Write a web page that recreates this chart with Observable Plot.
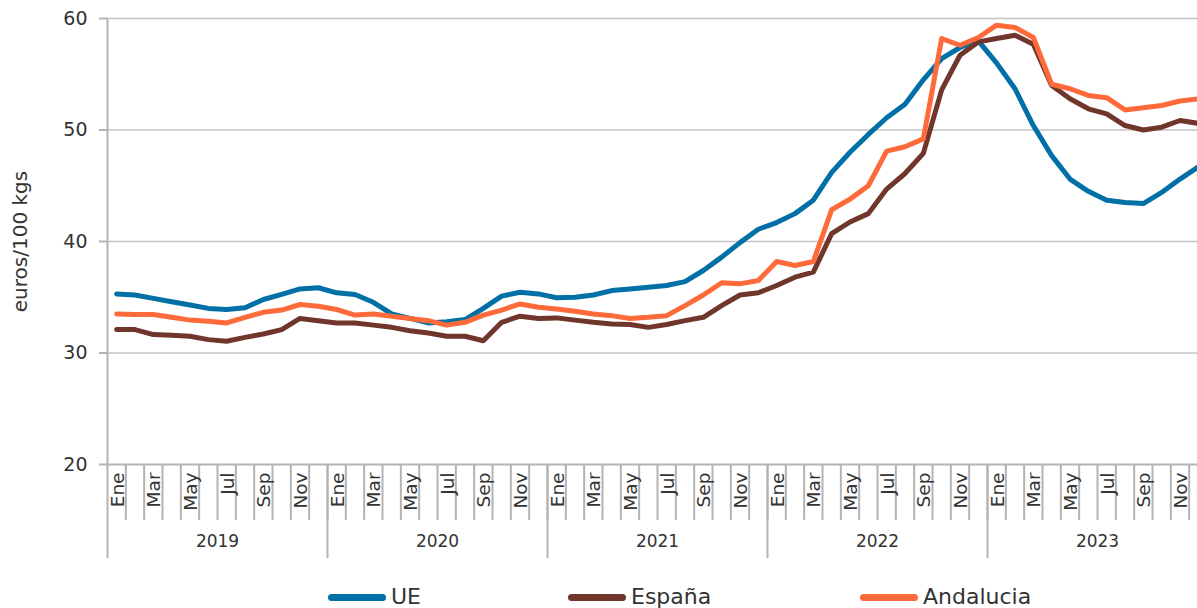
<!DOCTYPE html>
<html><head><meta charset="utf-8">
<script src="https://cdn.jsdelivr.net/npm/d3@7"></script>
<script src="https://cdn.jsdelivr.net/npm/@observablehq/plot@0.6"></script>
<style>
body{margin:0;background:#fff;font-family:"DejaVu Sans", sans-serif;}
#wrap{position:relative;width:1197px;height:608px;overflow:hidden;background:#fff}
.leg{position:absolute;top:584px;height:26px;line-height:1;display:flex;align-items:center;font-size:22px;color:#333;white-space:nowrap}
.sw{width:58px;height:7px;border-radius:4px;margin-right:5px}
</style></head><body><div id="wrap"></div>
<script>
const monthNames = ["Ene","Feb","Mar","Abr","May","Jun","Jul","Ago","Sep","Oct","Nov","Dic"];
const years = ["2019","2020","2021","2022","2023"];
const yTicks = [20,30,40,50,60];
const seriesNames = ["UE","España","Andalucia"];
const seriesColors = ["#0070a6","#70362b","#ff6a3b"];

const ue = [
35.3,35.2,34.9,34.6,34.3,34.0,33.9,34.05,34.8,35.25,35.75,35.85,
35.4,35.25,34.55,33.5,33.1,32.7,32.8,33.0,34.0,35.1,35.45,35.3,
34.95,35.0,35.2,35.6,35.75,35.9,36.05,36.4,37.4,38.6,39.9,41.1,
41.7,42.5,43.7,46.2,48.0,49.6,51.1,52.3,54.5,56.4,57.4,58.0,
56.0,53.7,50.4,47.7,45.6,44.5,43.7,43.5,43.4,44.4,45.6,46.7];
const espana = [
32.1,32.1,31.65,31.6,31.5,31.2,31.05,31.4,31.7,32.1,33.1,32.9,
32.7,32.7,32.5,32.3,32.0,31.8,31.5,31.5,31.1,32.75,33.3,33.1,
33.15,32.95,32.75,32.6,32.55,32.3,32.55,32.9,33.2,34.25,35.2,35.4,
36.05,36.8,37.25,40.7,41.75,42.5,44.7,46.1,47.9,53.6,56.7,57.9,
58.2,58.5,57.7,54.0,52.8,51.9,51.45,50.4,50.0,50.25,50.85,50.6];
const andalucia = [
33.5,33.45,33.45,33.2,32.95,32.85,32.7,33.2,33.65,33.85,34.35,34.2,
33.9,33.4,33.5,33.3,33.1,32.9,32.5,32.75,33.4,33.85,34.4,34.1,
33.95,33.75,33.5,33.35,33.1,33.2,33.35,34.25,35.2,36.3,36.2,36.5,
38.2,37.85,38.2,42.85,43.8,45.0,48.1,48.5,49.2,58.2,57.6,58.3,
59.4,59.2,58.3,54.1,53.7,53.1,52.9,51.8,52.0,52.2,52.6,52.8];

const seriesValues = [ue, espana, andalucia];
const nMonths = ue.length;
const rows = seriesValues.flatMap((vals, s) => vals.map((v, i) => ({series: seriesNames[s], i, x: i + 0.5, v})));
const monthBoundaries = d3.range(1, nMonths);
const yearBoundaries = years.map((y, k) => k * 12);
const monthLabels = d3.range(0, nMonths, 2).map(i => ({x: i + 0.5, text: monthNames[i % 12]}));
const yearLabels = years.map((y, k) => ({x: k * 12 + 6, text: y}));

const axisGray = "#b3b3b3";
const font = "'DejaVu Sans', sans-serif";
const chart = Plot.plot({
  width: 1197, height: 570,
  marginLeft: 107, marginTop: 18, marginBottom: 106, marginRight: 0,
  style: {fontFamily: font, color: "#333", background: "white", overflow: "hidden"},
  x: {domain: [0, 60], range: [107, 1207]},
  y: {domain: [20, 60]},
  color: {domain: seriesNames, range: seriesColors},
  marks: [
    Plot.ruleY(yTicks.filter(d => d > 20), {stroke: "#c4c4c4", strokeWidth: 1.5}),
    Plot.axisY(yTicks, {tickSize: 8, tickPadding: 12, stroke: axisGray, strokeWidth: 2, fill: "#333", fontSize: 19, label: null}),
    Plot.ruleX([0], {stroke: axisGray, strokeWidth: 2}),
    Plot.ruleY([20], {stroke: axisGray, strokeWidth: 2}),
    Plot.axisX(monthBoundaries, {tickSize: 56, tickFormat: () => "", stroke: axisGray, strokeWidth: 2, label: null}),
    Plot.axisX(yearBoundaries, {tickSize: 94, tickFormat: () => "", stroke: axisGray, strokeWidth: 2, label: null}),
    Plot.text(monthLabels, {x: "x", text: "text", frameAnchor: "bottom", dy: 8, dx: 1, rotate: -90, textAnchor: "end", lineAnchor: "middle", fontSize: 18.5, fill: "#333"}),
    Plot.text(yearLabels, {x: "x", text: "text", frameAnchor: "bottom", dy: 82, fontSize: 17, fill: "#333"}),
    Plot.text(["euros/100 kgs"], {frameAnchor: "left", dx: -87, rotate: -90, textAnchor: "middle", lineAnchor: "middle", fontSize: 20, fill: "#333"}),
    Plot.lineY(rows, {x: "x", y: "v", z: "series", stroke: "series", strokeWidth: 5, strokeLinejoin: "round", strokeLinecap: "round"})
  ]
});
const wrap = document.getElementById("wrap");
wrap.appendChild(chart);
const legendLeft = [328, 568, 860];
seriesNames.forEach((name, k) => {
  const item = document.createElement("div");
  item.className = "leg";
  item.style.left = legendLeft[k] + "px";
  const sw = document.createElement("div");
  sw.className = "sw";
  sw.style.background = seriesColors[k];
  const t = document.createElement("span");
  t.textContent = name;
  item.appendChild(sw); item.appendChild(t);
  wrap.appendChild(item);
});
</script>
</body></html>
